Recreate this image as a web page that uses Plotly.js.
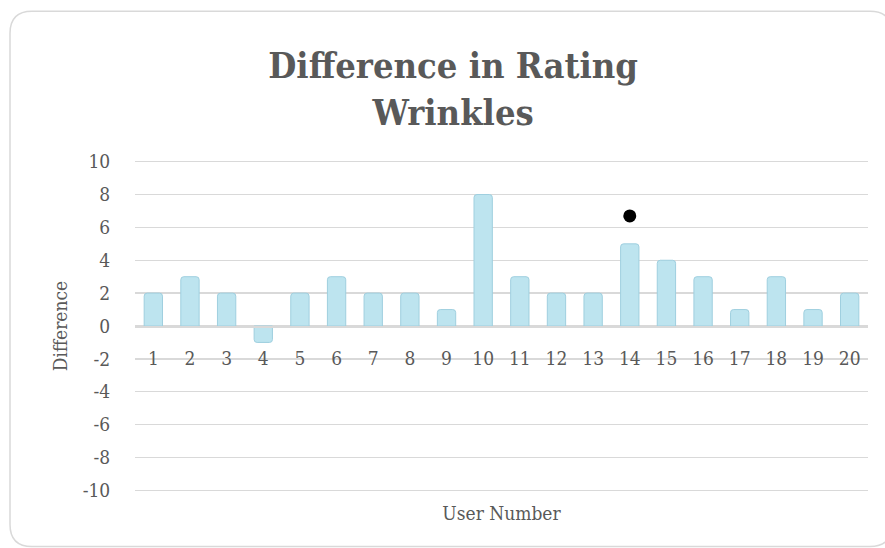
<!DOCTYPE html>
<html>
<head>
<meta charset="utf-8">
<script src="https://cdn.plot.ly/plotly-3.0.1.min.js"></script>
<style>html,body{margin:0;padding:0;background:#fff;}#chart{width:885px;height:548px;}</style>
</head>
<body>
<div id="chart"></div>
<script>
const users = [1,2,3,4,5,6,7,8,9,10,11,12,13,14,15,16,17,18,19,20];
const tickLabels = ["1","2","3","4","5","6","7","8","9","10","11","12","13","14","15","16","17","18","19","20"];
const differences = [2,3,2,-1,2,3,2,2,1,8,3,2,2,5,4,3,1,3,1,2];
const pointUser = [14];
const pointValue = [6.7];
const yTickVals = [-10,-8,-6,-4,-2,0,2,4,6,8,10];
const yTickLabels = ["-10","-8","-6","-4","-2","0","2","4","6","8","10"];

const W = 885, H = 548;
const M = {l:135, r:17, t:160.4, b:56.4};
const pw = W - M.l - M.r, ph = H - M.t - M.b;
const px = v => (v - M.l) / pw;
const py = v => (H - M.b - v) / ph;

// rounded outer frame
const L = 10, T = 12, R = 892, B = 546, rad = 22;
const framePath = `M ${px(L)} ${py(T+rad)} Q ${px(L)} ${py(T)} ${px(L+rad)} ${py(T)} L ${px(R-rad)} ${py(T)} Q ${px(R)} ${py(T)} ${px(R)} ${py(T+rad)} L ${px(R)} ${py(B-rad)} Q ${px(R)} ${py(B)} ${px(R-rad)} ${py(B)} L ${px(L+rad)} ${py(B)} Q ${px(L)} ${py(B)} ${px(L)} ${py(B-rad)} Z`;

const serif = "DejaVu Serif Condensed, DejaVu Serif, Liberation Serif, serif";
const grey = "#595959";

const traces = [
  {
    type: 'bar', x: users, y: differences, xaxis: 'x', yaxis: 'y',
    marker: {color: '#bde4ef', line: {color: '#9fcfdf', width: 1}, cornerradius: 3},
    hoverinfo: 'x+y', showlegend: false
  },
  {
    type: 'scatter', mode: 'markers', x: pointUser, y: pointValue, xaxis: 'x2', yaxis: 'y',
    marker: {color: '#000000', size: 13}, showlegend: false
  }
];

const layout = {
  width: W, height: H,
  margin: M,
  paper_bgcolor: '#ffffff', plot_bgcolor: '#ffffff',
  bargap: 0.5,
  font: {family: serif, color: grey, size: 18},
  title: {
    text: '<b>Difference in Rating<br>Wrinkles</b>',
    font: {family: serif, size: 36, color: grey},
    x: 0.512, xref: 'container', xanchor: 'center',
    y: 1 - 78/H, yref: 'container', yanchor: 'top'
  },
  xaxis: {
    range: [0.5, 20.5], showticklabels: false, showgrid: false, zeroline: false,
    showline: false, ticks: '',
    title: {text: 'User Number', font: {family: serif, size: 19, color: grey}, standoff: 14}
  },
  xaxis2: {
    overlaying: 'x', anchor: 'free', position: 0.5, side: 'bottom',
    range: [0.5, 20.5], tickmode: 'array', tickvals: users, ticktext: tickLabels,
    showgrid: false, zeroline: false, showline: true, linecolor: '#d9d9d9', linewidth: 1.5,
    ticks: 'outside', ticklen: 15, tickcolor: 'rgba(0,0,0,0)',
    tickfont: {family: serif, size: 19, color: grey}
  },
  yaxis: {
    range: [-10.1, 10.1], tickmode: 'array', tickvals: yTickVals, ticktext: yTickLabels,
    showgrid: true, gridcolor: '#d9d9d9', gridwidth: 1.5,
    zeroline: false, showline: false,
    ticks: 'outside', ticklen: 20, tickcolor: 'rgba(0,0,0,0)',
    tickfont: {family: serif, size: 19, color: grey},
    title: {text: 'Difference', font: {family: serif, size: 19, color: grey}, standoff: 10}
  },
  shapes: [
    {type: 'path', path: framePath, xref: 'paper', yref: 'paper',
     line: {color: '#d9d9d9', width: 1.5}, fillcolor: 'rgba(0,0,0,0)', layer: 'below'}
  ]
};

Plotly.newPlot('chart', traces, layout, {displayModeBar: false, staticPlot: true});
</script>
</body>
</html>
